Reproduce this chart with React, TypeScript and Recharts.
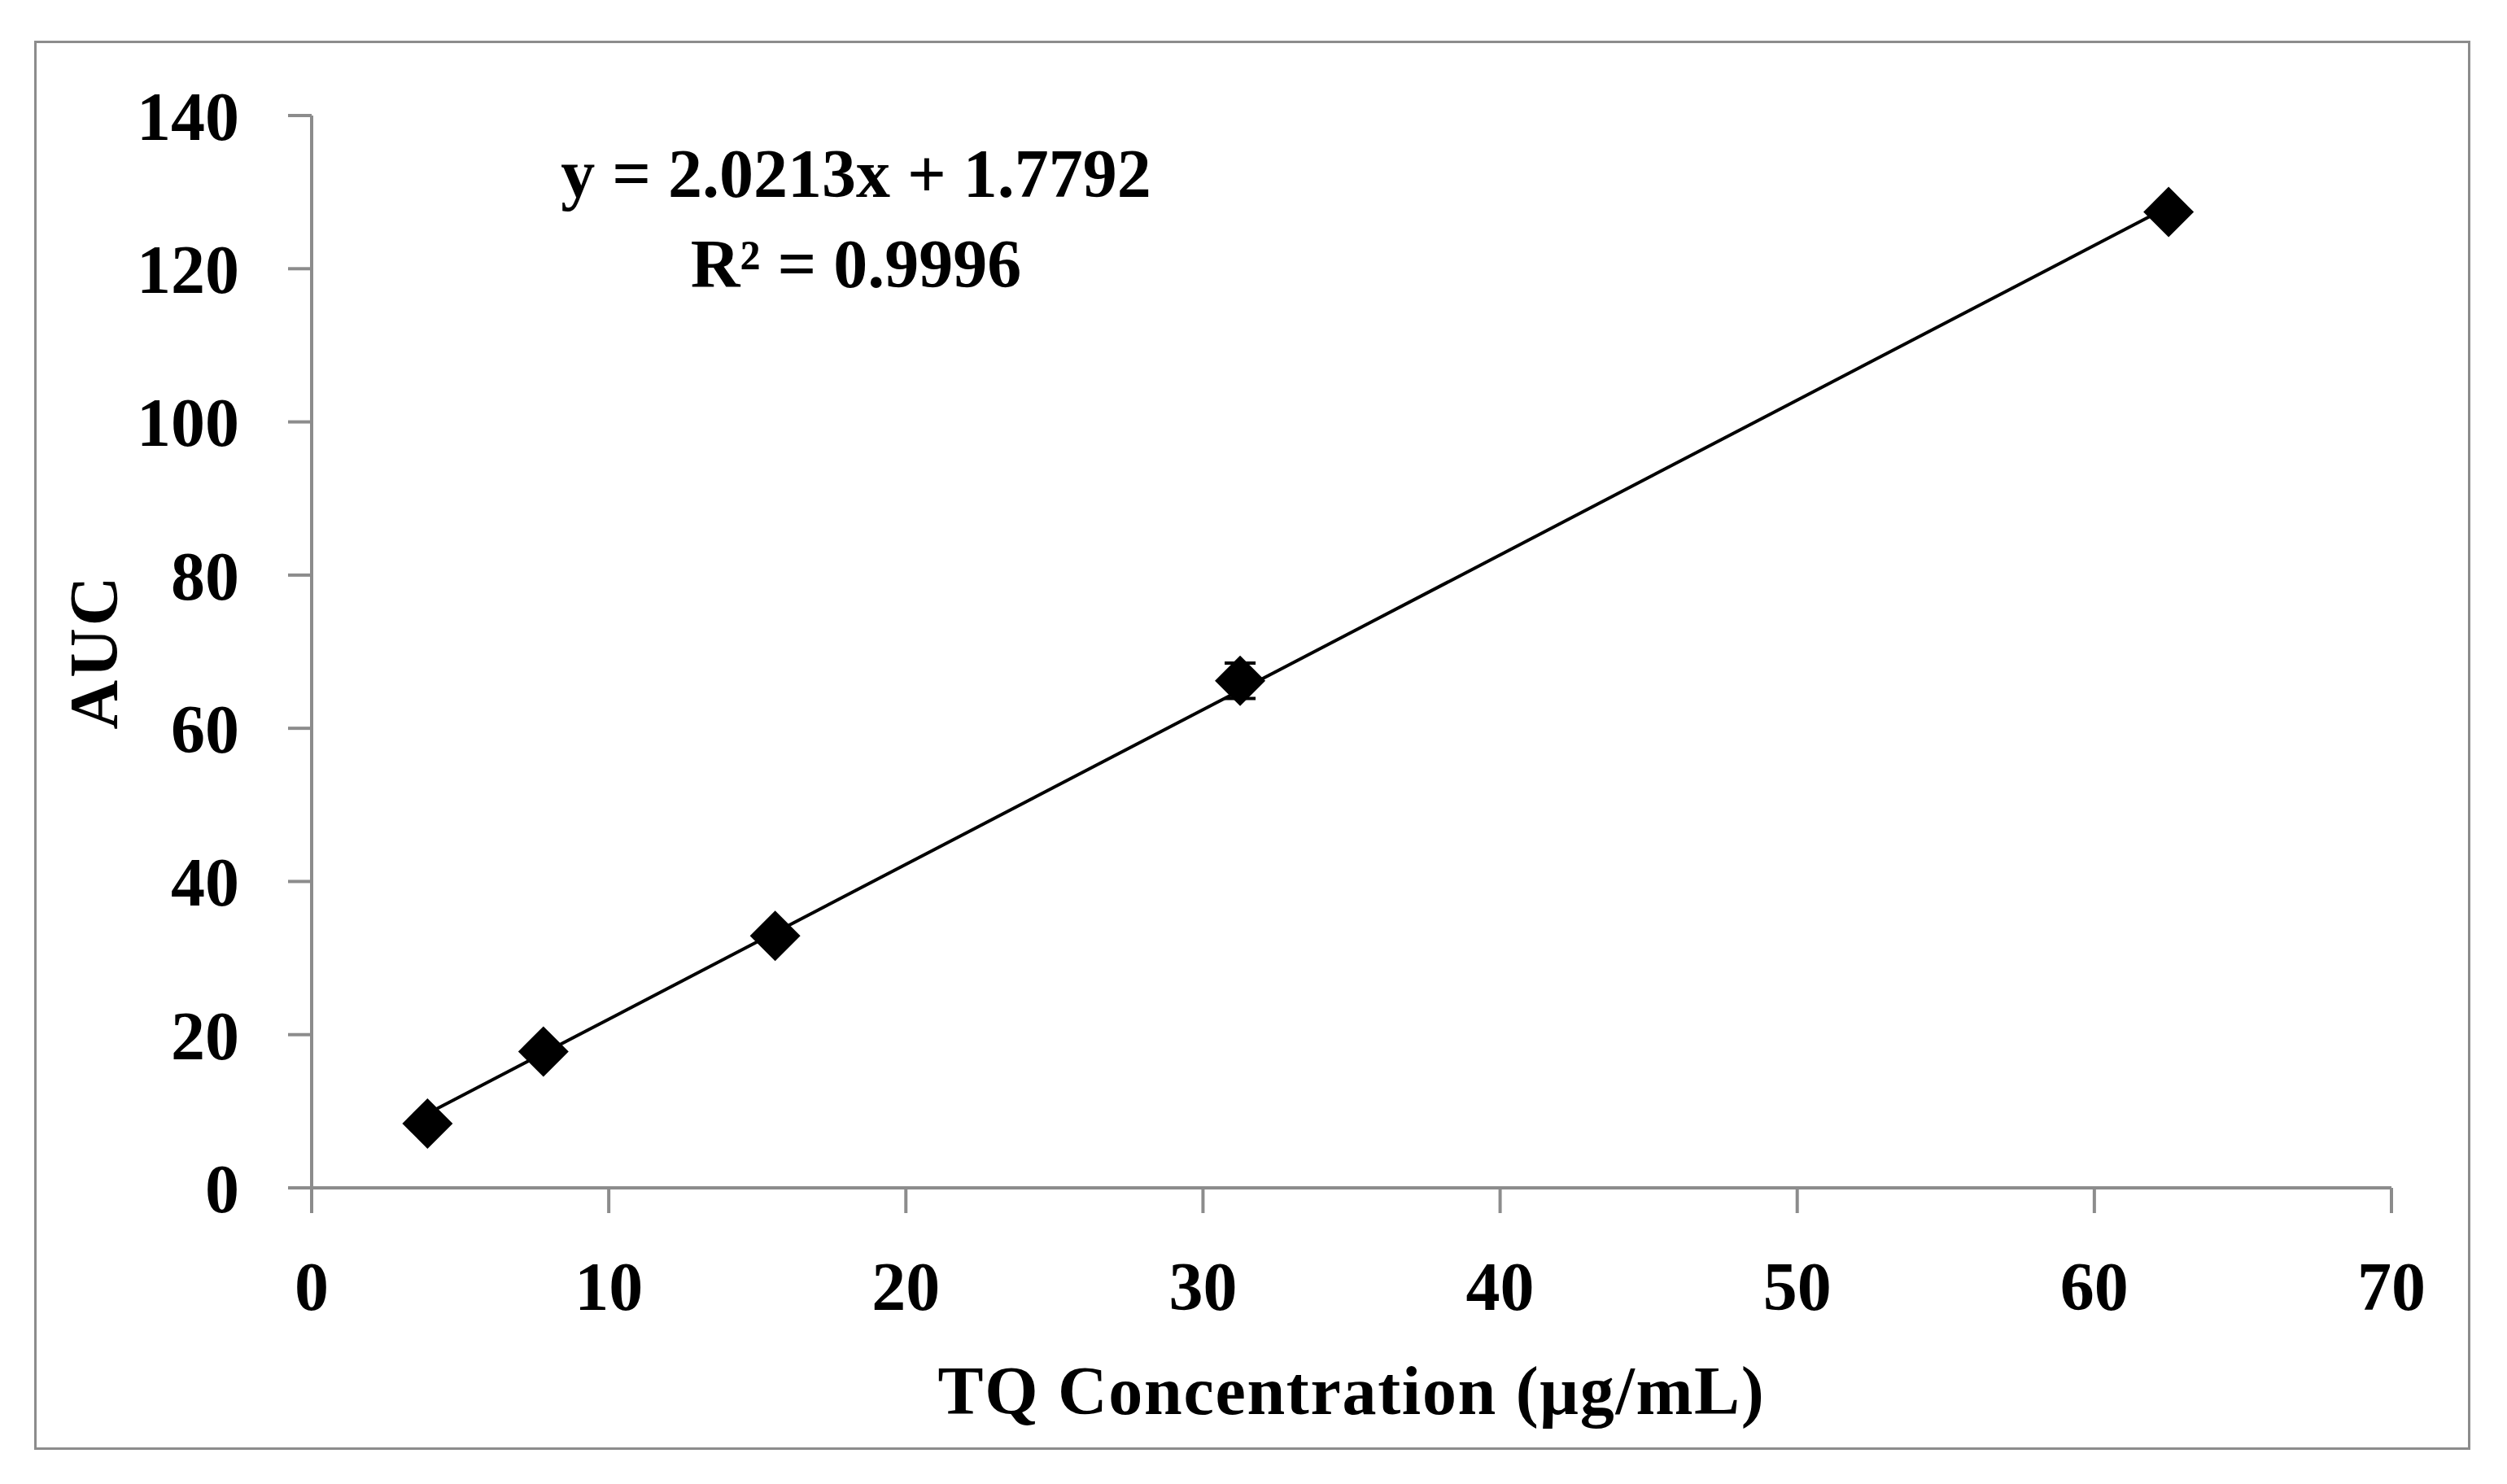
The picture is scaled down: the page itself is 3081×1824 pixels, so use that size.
import { ScatterChart, Scatter, XAxis, YAxis, ErrorBar, Label } from "recharts"

const concentrations = [3.9, 7.8, 15.6, 31.25, 62.5]
const aucValues = [8.4, 17.8, 32.9, 66.2, 127.4]
const aucErrors = [0.3, 0.4, 0.6, 2.3, 0.9]

// ends of the fitted line
const trendX = [3.9, 62.5]
const trendY = [9.7, 128.1]

const xTicks = [0, 10, 20, 30, 40, 50, 60, 70]
const yTicks = [0, 20, 40, 60, 80, 100, 120, 140]

const equationText = "y = 2.0213x + 1.7792"
const r2Text = "R² = 0.9996"

const font = "'Liberation Serif', 'Times New Roman', serif"
const gray = "#8c8c8c"

const points = concentrations.map((c, i) => ({ x: c, y: aucValues[i], err: aucErrors[i] }))
const trend = trendX.map((x, i) => ({ x, y: trendY[i] }))

const Diamond = (props: any) => {
  const { cx, cy } = props
  const r = 31
  return <polygon points={`${cx},${cy - r} ${cx + r},${cy} ${cx},${cy + r} ${cx - r},${cy}`} fill="#000" />
}

const tickStyle = { fontFamily: font, fontSize: 84, fontWeight: 700, fill: "#000" }

export default function App() {
  return (
    <div style={{ position: "absolute", left: 0, top: 0, width: 3081, height: 1824, background: "#fff" }}>
      <div
        style={{
          position: "absolute",
          left: 42,
          top: 50,
          width: 2994,
          height: 1732,
          border: `3.5px solid ${gray}`,
          boxSizing: "border-box",
        }}
      />
      <div style={{ position: "absolute", left: 0, top: 0 }}>
        <ScatterChart width={3081} height={1824} margin={{ top: 142, right: 142, bottom: 0, left: 0 }}>
          <XAxis
            type="number"
            dataKey="x"
            domain={[0, 70]}
            ticks={xTicks}
            height={364}
            stroke={gray}
            strokeWidth={4}
            tickSize={31}
            tickMargin={59}
            tick={tickStyle}
            tickLine={{ stroke: gray, strokeWidth: 4 }}
            axisLine={{ stroke: gray, strokeWidth: 4 }}
          >
            <Label
              content={(p: any) => {
                const { x, width } = p.viewBox
                return (
                  <text x={x + width / 2} y={1738} textAnchor="middle" style={{ ...tickStyle, letterSpacing: 1.7 }}>
                    TQ Concentration (μg/mL)
                  </text>
                )
              }}
            />
          </XAxis>
          <YAxis
            type="number"
            dataKey="y"
            domain={[0, 140]}
            ticks={yTicks}
            width={383}
            stroke={gray}
            strokeWidth={4}
            tickSize={29}
            tickMargin={60}
            tick={tickStyle}
            tickLine={{ stroke: gray, strokeWidth: 4 }}
            axisLine={{ stroke: gray, strokeWidth: 4 }}
          >
            <Label
              content={(p: any) => {
                const { y, height } = p.viewBox
                const cy = y + height / 2
                return (
                  <text
                    x={115}
                    y={cy}
                    textAnchor="middle"
                    dominantBaseline="central"
                    transform={`rotate(-90, 115, ${cy})`}
                    style={{ ...tickStyle, letterSpacing: 3 }}
                  >
                    AUC
                  </text>
                )
              }}
            />
          </YAxis>
          <Scatter
            data={trend}
            line={{ stroke: "#000", strokeWidth: 4 }}
            shape={() => <g />}
            isAnimationActive={false}
          />
          <Scatter data={points} shape={Diamond} isAnimationActive={false}>
            <ErrorBar dataKey="err" direction="y" width={19} stroke="#000" strokeWidth={4} />
          </Scatter>
        </ScatterChart>
      </div>
      <svg style={{ position: "absolute", left: 0, top: 0 }} width={3081} height={1824}>
        <text x={1052} y={242} textAnchor="middle" style={tickStyle}>
          {equationText}
        </text>
        <text x={1052} y={353} textAnchor="middle" style={tickStyle}>
          {r2Text}
        </text>
      </svg>
    </div>
  )
}
